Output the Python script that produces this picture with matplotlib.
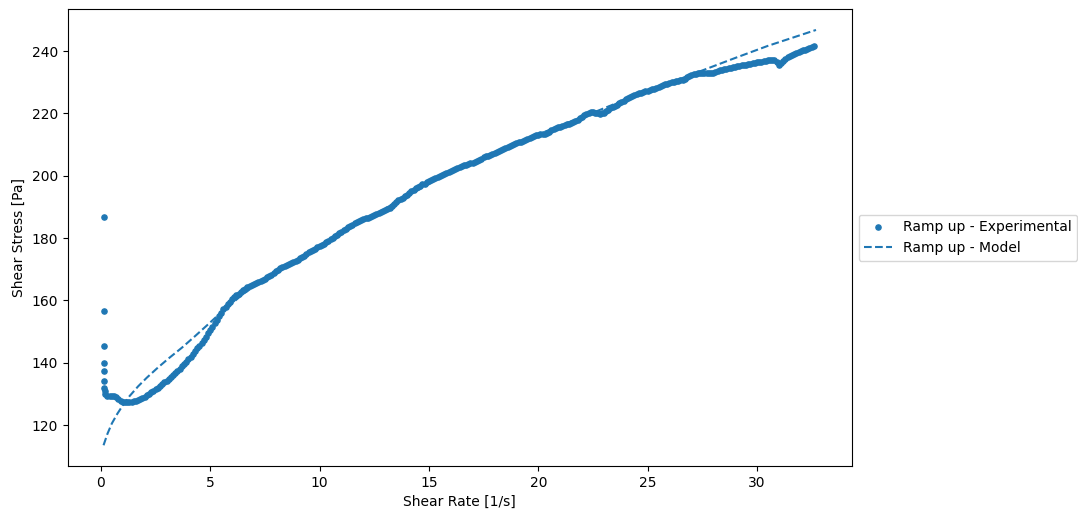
import matplotlib
matplotlib.use('Agg')
from matplotlib import pyplot as plt
import numpy as np

# first readings of the ramp (very low shear rate, stress overshoot)
spike_rate = [0.15, 0.15, 0.15, 0.15, 0.15, 0.15, 0.16, 0.17]
spike_stress = [186.7, 156.7, 145.4, 140.0, 137.2, 134.2, 131.8, 130.8]

# rest of the ramp, shear rate 0.2 .. 32.6 1/s every 0.1 (one row = 1 1/s)
ramp_stress = [
    129.9, 129.4, 129.2, 129.4, 129.3, 128.9, 128.3, 127.8, 127.4, 127.3,
    127.3, 127.4, 127.5, 127.6, 127.8, 128.1, 128.4, 128.7, 129.1, 129.5,
    129.9, 130.5, 131.0, 131.5, 132.0, 132.6, 133.2, 133.7, 134.2, 134.8,
    135.3, 135.9, 136.6, 137.3, 138.0, 138.8, 139.6, 140.3, 141.1, 141.9,
    142.7, 143.6, 144.6, 145.5, 146.4, 147.4, 148.4, 149.4, 150.4, 151.5,
    152.6, 153.8, 155.0, 156.1, 157.1, 158.0, 158.9, 159.6, 160.3, 161.0,
    161.6, 162.2, 162.7, 163.3, 163.8, 164.2, 164.5, 164.9, 165.2, 165.5,
    165.8, 166.2, 166.6, 167.0, 167.4, 167.9, 168.3, 168.8, 169.3, 169.8,
    170.3, 170.6, 171.0, 171.3, 171.6, 172.0, 172.4, 172.7, 173.1, 173.5,
    174.0, 174.4, 174.9, 175.4, 175.8, 176.2, 176.6, 177.0, 177.3, 177.8,
    178.2, 178.6, 179.0, 179.6, 180.1, 180.6, 181.1, 181.6, 182.1, 182.5,
    183.0, 183.4, 183.9, 184.3, 184.7, 185.1, 185.4, 185.7, 186.0, 186.3,
    186.6, 186.9, 187.2, 187.4, 187.7, 188.0, 188.3, 188.6, 189.0, 189.4,
    189.8, 190.3, 190.9, 191.5, 192.1, 192.6, 193.0, 193.4, 193.9, 194.5,
    195.0, 195.5, 196.0, 196.4, 196.8, 197.2, 197.5, 197.9, 198.2, 198.6,
    198.9, 199.2, 199.5, 199.9, 200.2, 200.6, 201.0, 201.3, 201.6, 201.9,
    202.2, 202.5, 202.8, 203.1, 203.3, 203.5, 203.7, 204.0, 204.2, 204.5,
    204.9, 205.2, 205.5, 205.9, 206.2, 206.5, 206.8, 207.1, 207.4, 207.7,
    208.0, 208.3, 208.6, 208.9, 209.2, 209.5, 209.8, 210.1, 210.4, 210.7,
    211.0, 211.2, 211.5, 211.8, 212.1, 212.4, 212.7, 213.0, 213.2, 213.3,
    213.3, 213.5, 213.8, 214.2, 214.6, 214.9, 215.2, 215.5, 215.7, 216.0,
    216.2, 216.5, 216.7, 217.0, 217.2, 217.6, 218.0, 218.4, 218.9, 219.4,
    219.9, 220.2, 220.4, 220.4, 220.3, 220.1, 219.9, 220.0, 220.3, 220.7,
    221.2, 221.6, 222.0, 222.4, 222.7, 223.2, 223.6, 224.1, 224.5, 224.9,
    225.3, 225.7, 226.0, 226.3, 226.5, 226.7, 226.9, 227.1, 227.2, 227.5,
    227.7, 228.0, 228.2, 228.5, 228.8, 229.1, 229.4, 229.6, 229.8, 230.0,
    230.2, 230.3, 230.5, 230.7, 230.9, 231.2, 231.6, 232.0, 232.3, 232.6,
    232.8, 232.9, 232.9, 233.0, 233.0, 233.0, 232.9, 233.0, 233.1, 233.3,
    233.6, 233.8, 234.0, 234.2, 234.3, 234.5, 234.6, 234.8, 234.9, 235.1,
    235.2, 235.4, 235.5, 235.7, 235.8, 236.0, 236.1, 236.3, 236.4, 236.5,
    236.6, 236.8, 236.9, 237.1, 237.2, 237.3, 237.3, 236.6, 235.6, 236.2,
    236.8, 237.4, 238.0, 238.5, 238.9, 239.1, 239.3, 239.8, 240.2, 240.3,
    240.4, 240.8, 241.1, 241.3, 241.5,
]
ramp_rate = np.linspace(0.2, 32.6, len(ramp_stress))

# fitted model curve
model_rate = [0.12, 0.3, 0.5, 0.75, 1.0, 1.3, 1.7, 2.1, 2.6, 3.1, 3.7, 4.3, 4.9,
              5.6, 6.5, 7.5, 9.0, 10.5, 12.0, 14.0, 16.0, 18.0, 20.0, 22.0,
              24.0, 26.0, 27.5, 29.0, 30.5, 32.7]
model_stress = [113.5, 117.2, 120.5, 123.6, 126.3, 129.2, 132.4, 135.2, 138.4,
                141.4, 144.8, 148.5, 152.3, 156.8, 162.0, 167.0, 173.0, 179.5,
                185.5, 193.5, 201.3, 207.5, 213.3, 218.8, 224.5, 229.8, 233.8,
                237.8, 241.7, 246.8]

exp_x = np.concatenate([spike_rate, ramp_rate])
exp_y = np.concatenate([spike_stress, ramp_stress])

fig = plt.figure(figsize=(10.78, 5.11), dpi=100)
ax = fig.add_axes([0.063, 0.088, 0.727, 0.894])
ax.scatter(exp_x, exp_y, s=14, color='tab:blue', label='Ramp up - Experimental')
ax.plot(model_rate, model_stress, '--', color='tab:blue', label='Ramp up - Model')
ax.set_xlabel('Shear Rate [1/s]')
ax.set_ylabel('Shear Stress [Pa]')
ax.legend(loc='center left', bbox_to_anchor=(1, 0.5))

fig.savefig('out.png', dpi=100)
